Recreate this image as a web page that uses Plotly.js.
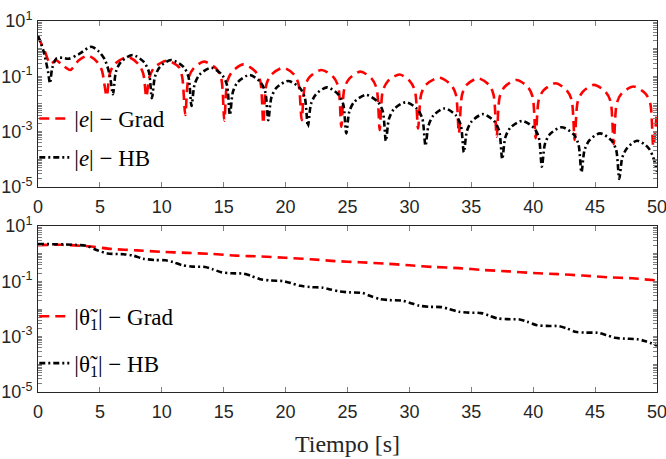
<!DOCTYPE html>
<html>
<head>
<meta charset="utf-8">
<script src="https://cdn.plot.ly/plotly-3.0.1.min.js"></script>
<style>html,body{margin:0;padding:0;background:#fff;}</style>
</head>
<body>
<div id="chart" style="width:666px;height:459px;"></div>
<script>
// ---- Data ----
const tErrGrad = [0, 0.55, 1.0, 1.45, 2.0, 2.6, 3.3, 4.05, 4.75, 5.15, 5.55,
  5.8, 6.2, 7.25, 8.1, 8.5, 8.75,
  9.0, 9.4, 10.45, 11.4, 11.65, 11.9,
  12.15, 12.55, 13.4, 14.4, 14.8, 15.05,
  15.3, 15.7, 16.6, 17.55, 17.95, 18.2,
  18.45, 18.85, 19.8, 20.7, 21.05, 21.3,
  21.55, 21.95, 22.9, 23.85, 24.25, 24.5,
  24.75, 25.15, 26.05, 26.95, 27.35, 27.6,
  27.85, 28.25, 29.2, 30.05, 30.45, 30.7,
  30.95, 31.35, 32.4, 33.35, 33.75, 34.0,
  34.25, 34.6, 35.55, 36.45, 36.8, 37.05,
  37.3, 37.7, 38.65, 39.55, 39.95, 40.2,
  40.45, 40.85, 41.8, 42.7, 43.1, 43.35,
  43.6, 44.0, 44.9, 45.85, 46.25, 46.5,
  46.75, 47.15, 48.1, 49.05, 49.45, 49.7, 50];
const errGrad = [2.7, 0.8, 0.28, 0.38, 0.25, 0.17, 0.38, 0.56, 0.34, 0.17, 0.019,
  0.126, 0.28, 0.5, 0.28, 0.126, 0.0178,
  0.093, 0.21, 0.37, 0.21, 0.093, 0.004,
  0.085, 0.19, 0.34, 0.19, 0.085, 0.0025,
  0.068, 0.15, 0.27, 0.15, 0.068, 0.002,
  0.051, 0.115, 0.204, 0.115, 0.051, 0.0026,
  0.043, 0.095, 0.17, 0.095, 0.043, 0.0015,
  0.037, 0.083, 0.148, 0.083, 0.037, 0.00115,
  0.0295, 0.066, 0.117, 0.066, 0.0295, 0.0013,
  0.0224, 0.05, 0.089, 0.05, 0.0224, 0.00087,
  0.0214, 0.048, 0.085, 0.048, 0.0214, 0.00066,
  0.0186, 0.042, 0.074, 0.042, 0.0186, 0.00058,
  0.0141, 0.0316, 0.056, 0.0316, 0.0141, 0.0005,
  0.0123, 0.0275, 0.049, 0.0275, 0.0123, 0.00035,
  0.0107, 0.024, 0.0427, 0.024, 0.0107, 0.00029, 0.0063];

const tErrHB = [0, 0.45, 0.8, 0.97, 1.15, 1.5, 2.0, 2.45, 3.3, 4.3, 4.9, 5.4, 5.8, 6.05,
  6.3, 6.7, 7.65, 8.55, 8.95, 9.2,
  9.45, 9.85, 10.75, 11.75, 12.15, 12.4,
  12.65, 13.05, 14.0, 14.85, 15.25, 15.5,
  15.75, 16.15, 17.1, 17.95, 18.35, 18.6,
  18.85, 19.25, 20.2, 21.15, 21.55, 21.8,
  22.05, 22.45, 23.35, 24.25, 24.65, 24.9,
  25.15, 25.55, 26.5, 27.45, 27.85, 28.1,
  28.35, 28.75, 29.7, 30.65, 31.05, 31.3,
  31.55, 31.95, 32.85, 33.75, 34.15, 34.4,
  34.65, 35.05, 35.95, 36.85, 37.25, 37.5,
  37.75, 38.15, 39.1, 40.05, 40.45, 40.7,
  40.95, 41.35, 42.3, 43.25, 43.65, 43.9,
  44.15, 44.55, 45.4, 46.3, 46.7, 46.95,
  47.2, 47.6, 48.4, 49.3, 49.7, 50];
const errHB = [2.95, 0.8, 0.158, 0.056, 0.2, 0.45, 0.47, 0.43, 0.63, 1.17, 0.8, 0.4, 0.11, 0.0224,
  0.148, 0.33, 0.59, 0.33, 0.148, 0.0162,
  0.098, 0.22, 0.39, 0.22, 0.098, 0.0085,
  0.051, 0.115, 0.204, 0.115, 0.051, 0.004,
  0.028, 0.063, 0.112, 0.063, 0.028, 0.0026,
  0.017, 0.038, 0.068, 0.038, 0.017, 0.0015,
  0.01, 0.0224, 0.04, 0.0224, 0.01, 0.00087,
  0.0054, 0.012, 0.0214, 0.012, 0.0054, 0.00046,
  0.0029, 0.0065, 0.0115, 0.0065, 0.0029, 0.00031,
  0.0017, 0.0039, 0.0069, 0.0039, 0.0017, 0.00018,
  0.00107, 0.0024, 0.0043, 0.0024, 0.00107, 0.000102,
  0.00062, 0.00138, 0.00245, 0.00138, 0.00062, 0.000054,
  0.00036, 0.00081, 0.00145, 0.00081, 0.00036, 0.000034,
  0.00022, 0.00049, 0.00087, 0.00049, 0.00022, 0.0000195,
  0.000117, 0.00026, 0.00047, 0.00026, 0.000117, 0.0000355];

const tThGrad = [0, 2, 4, 6, 8, 10, 12, 14, 16, 18, 20, 22, 24, 26, 28, 30, 32, 34, 36, 38, 40, 42, 44, 46, 48, 50];
const thGrad = [2.04, 2.09, 1.86, 1.48, 1.32, 1.17, 1.07, 0.98, 0.85, 0.79, 0.71, 0.63, 0.54, 0.49, 0.44, 0.38, 0.33, 0.3, 0.257, 0.229, 0.2, 0.182, 0.162, 0.141, 0.129, 0.107];

const tThHB = [0, 1.5, 3.0, 3.9, 4.8, 5.6, 6.9, 7.7, 8.5, 9.4, 10.3, 10.9, 11.6, 12.5, 13.5, 14.1, 14.8, 15.6, 16.6, 17.2, 17.95, 18.8, 19.8, 20.4, 21.2, 22.0, 23.0, 23.6, 24.4, 25.2, 26.2, 26.8, 27.6, 28.4, 29.4, 30.0, 30.8, 31.6, 32.6, 33.2, 34.0, 34.8, 35.8, 36.4, 37.1, 37.9, 38.9, 39.5, 40.3, 41.1, 42.1, 42.7, 43.4, 44.2, 45.2, 45.9, 46.6, 47.4, 48.4, 49.0, 50];
const thHB = [2.24, 2.19, 2.09, 1.91, 1.32, 1.02, 0.955, 0.85, 0.66, 0.59, 0.575, 0.5, 0.39, 0.34, 0.33, 0.275, 0.214, 0.195, 0.19, 0.158, 0.12, 0.107, 0.102, 0.087, 0.069, 0.062, 0.059, 0.051, 0.043, 0.04, 0.038, 0.030, 0.023, 0.021, 0.02, 0.017, 0.0132, 0.012, 0.0117, 0.01, 0.0079, 0.0074, 0.0071, 0.0059, 0.0046, 0.0043, 0.0042, 0.0035, 0.0026, 0.00245, 0.0024, 0.002, 0.0015, 0.0014, 0.00138, 0.00115, 0.00091, 0.00085, 0.00081, 0.0007, 0.00048];

const xTicks = [0, 5, 10, 15, 20, 25, 30, 35, 40, 45, 50];
const yLabelExps = [1, -1, -3, -5];
const decades = [-5, -4, -3, -2, -1, 0];
const mantissas = [1, 2, 3, 4, 5, 6, 7, 8, 9];

const nameErrGrad = '|<i>e</i>| − Grad';
const nameErrHB = '|<i>e</i>| − HB';
const nameThGrad = '|θ̃<sub>1</sub>| − Grad';
const nameThHB = '|θ̃<sub>1</sub>| − HB';

// log-axis tick positions (axis decoration): every 1..9 x 10^n, labels only at 10^1, 10^-1, 10^-3, 10^-5
const yTickVals = [];
const yTickText = [];
decades.forEach(d => mantissas.forEach(m => {
  yTickVals.push(m * Math.pow(10, d));
  yTickText.push(m === 1 && yLabelExps.indexOf(d) >= 0 ? '10<sup>' + d + '</sup>' : '');
}));
yTickVals.push(10);
yTickText.push('10<sup>1</sup>');

// ---- Styles ----
const RED = '#ff0000', BLACK = '#000000';
const redLine = {color: RED, width: 2.6, dash: '10px,6px', shape: 'spline', smoothing: 0.8};
const blackLine = {color: BLACK, width: 2.6, dash: '6px,3px,2px,3px', shape: 'spline', smoothing: 0.8};

const traces = [
  {x: tErrGrad, y: errGrad, name: nameErrGrad, mode: 'lines', line: redLine, xaxis: 'x', yaxis: 'y', legend: 'legend', legendgroup: 'a'},
  {x: tErrHB, y: errHB, name: nameErrHB, mode: 'lines', line: blackLine, xaxis: 'x', yaxis: 'y', legend: 'legend', legendgroup: 'b'},
  {x: tThGrad, y: thGrad, name: nameThGrad, mode: 'lines', line: redLine, xaxis: 'x2', yaxis: 'y2', legend: 'legend2', legendgroup: 'c'},
  {x: tThHB, y: thHB, name: nameThHB, mode: 'lines', line: blackLine, xaxis: 'x2', yaxis: 'y2', legend: 'legend2', legendgroup: 'd'}
];

const tickFont = {family: '"Liberation Sans", Arial, sans-serif', size: 18, color: '#262626'};
const serif = '"Liberation Serif", "DejaVu Serif", serif';

function xAxis(anchor, withTitle) {
  const a = {
    anchor: anchor, domain: [0, 1], range: [0, 50], tickvals: xTicks,
    ticks: 'inside', ticklen: 5, tickwidth: 1, tickcolor: '#808080',
    showline: true, linecolor: '#262626', linewidth: 1, mirror: 'ticks',
    showgrid: false, zeroline: false, tickfont: tickFont, ticklabeloverflow: 'allow',
    ticklabelstandoff: 3
  };
  if (withTitle) a.title = {text: 'Tiempo [s]', font: {family: serif, size: 24, color: '#262626'}, standoff: 14};
  return a;
}
function yAxis(anchor, domain) {
  return {
    anchor: anchor, domain: domain, type: 'log', range: [-5, 1],
    tickmode: 'array', tickvals: yTickVals, ticktext: yTickText,
    ticks: 'inside', ticklen: 4, tickwidth: 1, tickcolor: '#808080',
    showline: true, linecolor: '#262626', linewidth: 1, mirror: 'ticks',
    showgrid: false, zeroline: false, tickfont: tickFont, ticklabeloverflow: 'allow',
    ticklabelstandoff: 1
  };
}

const layout = {
  width: 666, height: 459,
  margin: {l: 38, r: 9, t: 21, b: 67},
  paper_bgcolor: '#ffffff', plot_bgcolor: '#ffffff',
  showlegend: true,
  xaxis: xAxis('y', false),
  yaxis: yAxis('x', [0.5526, 1]),
  xaxis2: xAxis('y2', true),
  yaxis2: yAxis('x2', [0, 0.4474]),
  legend: {x: -0.006, y: 0.795, xanchor: 'left', yanchor: 'top', bgcolor: 'rgba(0,0,0,0)', borderwidth: 0,
    font: {family: serif, size: 23, color: '#000'}, itemwidth: 30, tracegroupgap: 6},
  legend2: {x: -0.006, y: 0.262, xanchor: 'left', yanchor: 'top', bgcolor: 'rgba(0,0,0,0)', borderwidth: 0,
    font: {family: serif, size: 23, color: '#000'}, itemwidth: 30, tracegroupgap: 14}
};

Plotly.newPlot('chart', traces, layout, {staticPlot: true, displayModeBar: false});
</script>
</body>
</html>
